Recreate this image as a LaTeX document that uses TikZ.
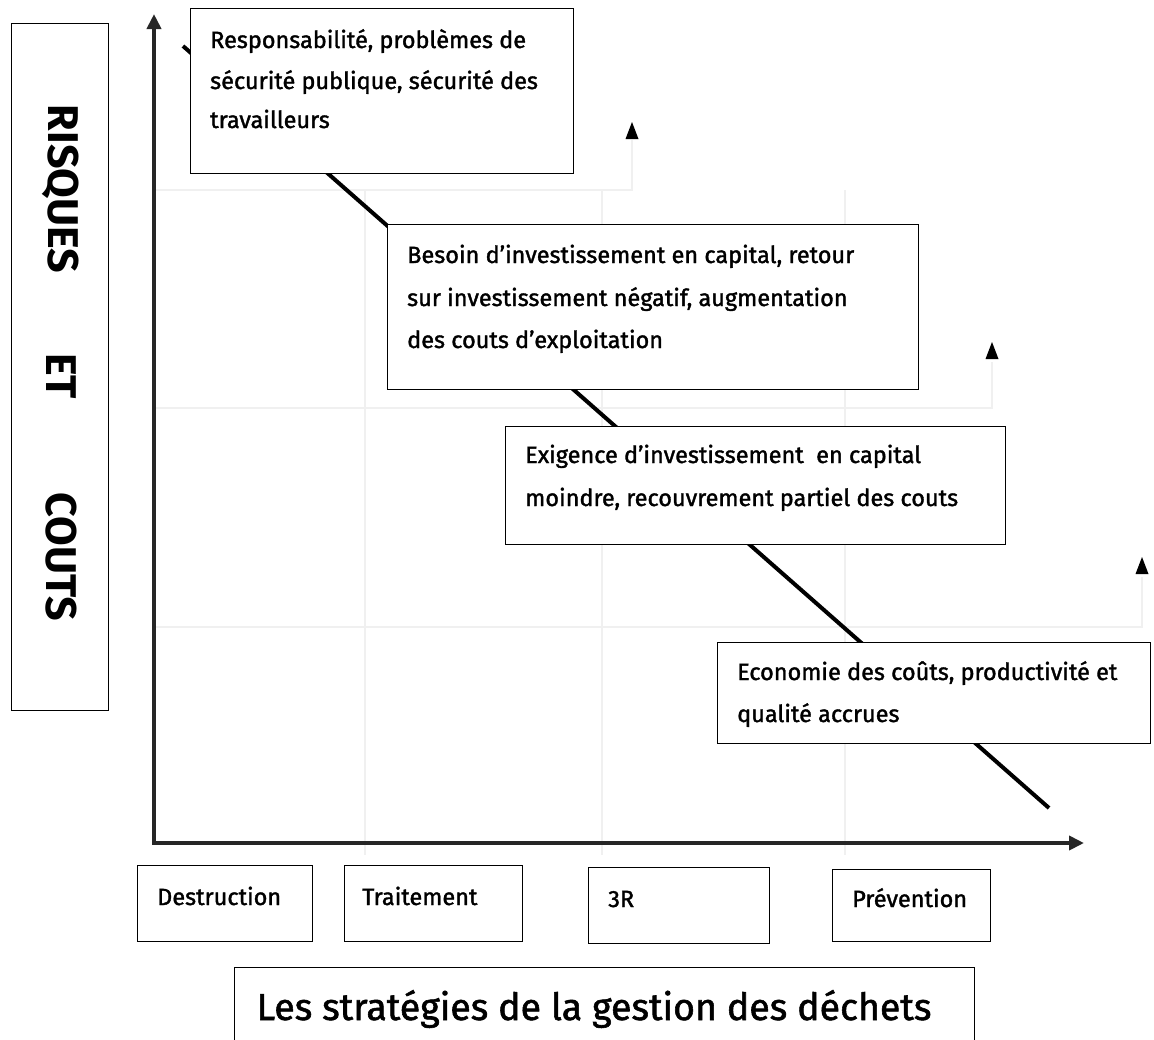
\documentclass[tikz,border=0pt]{standalone}
\usepackage{fontspec}
\setmainfont{Fira Sans}
\newfontfamily\hand{Fira Sans}[FakeBold=1.5]
\usetikzlibrary{arrows.meta}
\begin{document}
\begin{tikzpicture}[x=1pt,y=-1pt,
  box/.style={draw=black,line width=1.3pt,fill=white,rectangle,inner sep=0pt,anchor=north west},
  txt/.style={anchor=base west,inner sep=0pt,font=\hand\fontsize{23.5}{28}\selectfont},
  lbl/.style={anchor=base west,inner sep=0pt,font=\hand\fontsize{23.5}{28}\selectfont},
  vlbl/.style={rotate=-90,inner sep=0pt,font=\fontsize{43}{46}\selectfont\bfseries},
  grid/.style={draw=black!6,line width=2pt},
  axis/.style={draw=black!85,line width=4pt,-{Triangle[length=15pt,width=14pt]}}
]
\useasboundingbox (0,0) rectangle (1154,1039);
\fill[white] (0,0) rectangle (1154,1039);

% faint grid
\draw[grid] (155,190) -- (632,190) -- (632,140);
\draw[grid] (155,408) -- (992,408) -- (992,362);
\draw[grid] (155,627) -- (1142,627) -- (1142,577);
\draw[grid] (365,190) -- (365,855);
\draw[grid] (602,190) -- (602,855);
\draw[grid] (845,190) -- (845,855);

% small triangles
\coordinate (m1) at (632,131);
\coordinate (m2) at (992,351);
\coordinate (m3) at (1142,566);
\fill (m1) ++(0,-9) -- ++(6.5,17) -- ++(-13,0) -- cycle;
\fill (m2) ++(0,-9) -- ++(6.5,17) -- ++(-13,0) -- cycle;
\fill (m3) ++(0,-9) -- ++(6.5,17) -- ++(-13,0) -- cycle;

% diagonal trend line
\coordinate (d0) at (183,46);
\coordinate (d1) at (1049,808);
\draw[black,line width=4pt] (d0) -- (d1);

% axes
\coordinate (o) at (154,843);
\coordinate (ytip) at (154,14);
\coordinate (xtip) at (1084,843);
\draw[axis] (o) -- (ytip);
\draw[axis] ([xshift=-2pt]o) -- (xtip);

% left label box
\node[box,minimum width=97pt,minimum height=687pt] (lb) at (11,23) {};
\node[vlbl] (v1) at (61,189) {RISQUES};
\node[vlbl] (v2) at (61,376) {ET};
\node[vlbl] (v3) at (61,557) {COUTS};

% box 1
\node[box,minimum width=383pt,minimum height=165pt] (b1) at (190,8) {};
\node[txt] (t1a) at (210,48) {Responsabilité, problèmes de};
\node[txt] (t1b) at (210,89) {sécurité publique, sécurité des};
\node[txt] (t1c) at (210,128) {travailleurs};

% box 2
\node[box,minimum width=531pt,minimum height=165pt] (b2) at (387,224) {};
\node[txt] (t2a) at (407,263) {Besoin d’investissement en capital, retour};
\node[txt] (t2b) at (407,306) {sur investissement négatif, augmentation};
\node[txt] (t2c) at (407,348) {des couts d’exploitation};

% box 3
\node[box,minimum width=500pt,minimum height=118pt] (b3) at (505,426) {};
\node[txt] (t3a) at (525,463) {Exigence d’investissement\ \ en capital};
\node[txt] (t3b) at (525,506) {moindre, recouvrement partiel des couts};

% box 4
\node[box,minimum width=433pt,minimum height=101pt] (b4) at (717,642) {};
\node[txt] (t4a) at (737,680) {Economie des coûts, productivité et};
\node[txt] (t4b) at (737,722) {qualité accrues};

% bottom category boxes
\node[box,minimum width=175pt,minimum height=76pt] (c1) at (137,865) {};
\node[lbl] (l1) at (157,905) {Destruction};
\node[box,minimum width=178pt,minimum height=76pt] (c2) at (344,865) {};
\node[lbl] (l2) at (362,905) {Traitement};
\node[box,minimum width=181pt,minimum height=76pt] (c3) at (588,867) {};
\node[lbl] (l3) at (608,907) {3R};
\node[box,minimum width=158pt,minimum height=72pt] (c4) at (832,869) {};
\node[lbl] (l4) at (852,907) {Prévention};

% title box
\node[box,minimum width=740pt,minimum height=90pt] (tb) at (234,967) {};
\node[anchor=base,inner sep=0pt,font=\hand\fontsize{37.5}{42}\selectfont] (title) at (594,1020) {Les stratégies de la gestion des déchets};
\end{tikzpicture}
\end{document}
